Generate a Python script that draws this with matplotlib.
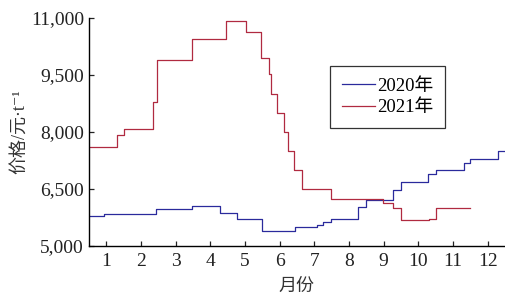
import matplotlib
matplotlib.use("Agg")
import matplotlib.pyplot as plt
from matplotlib.ticker import FuncFormatter

plt.rcParams['font.family'] = ['Liberation Serif', 'Noto Sans CJK SC', 'DejaVu Sans']

# step breakpoints (month, price)
month_2020 = [0.5, 0.93, 2.45, 3.48, 4.28, 4.78, 5.48, 6.44, 7.07, 7.26, 7.48,
              8.27, 8.48, 9.27, 9.51, 10.29, 10.52, 11.32, 11.49, 12.3, 12.5]
price_2020 = [5800, 5850, 5970, 6050, 5870, 5700, 5400, 5500, 5550, 5620, 5700,
              6030, 6200, 6480, 6690, 6900, 7000, 7180, 7290, 7500, 7500]

month_2021 = [0.5, 1.32, 1.52, 2.35, 2.46, 3.46, 4.46, 5.03, 5.46, 5.69, 5.75,
              5.92, 6.13, 6.25, 6.41, 6.66, 7.48, 8.97, 9.26, 9.50, 10.30, 10.51, 11.49]
price_2021 = [7600, 7920, 8090, 8780, 9900, 10450, 10930, 10640, 9960, 9540, 9010,
              8500, 8000, 7500, 7000, 6500, 6240, 6140, 6010, 5670, 5710, 5990, 5990]

x_ticks = list(range(1, 13))
y_ticks = [5000, 6500, 8000, 9500, 11000]

fig = plt.figure(figsize=(5.05, 3.01), dpi=100)
ax = fig.add_axes([0.176, 0.183, 0.824, 0.757])

ax.plot(month_2020, price_2020, drawstyle='steps-post', color='#2a2a9c', lw=0.9, label='2020年')
ax.plot(month_2021, price_2021, drawstyle='steps-post', color='#b02a40', lw=0.9, label='2021年')

ax.set_xlim(0.5, 12.5)
ax.set_ylim(5000, 11000)
ax.set_xticks(x_ticks)
ax.set_yticks(y_ticks)
ax.yaxis.set_major_formatter(FuncFormatter(lambda v, p: f"{int(v):,}"))
ax.tick_params(direction='in', length=3.5, width=0.9, labelsize=14, colors='#222222')
ax.tick_params(axis='x', pad=5)

for s in ['top', 'right']:
    ax.spines[s].set_visible(False)
for s in ['left', 'bottom']:
    ax.spines[s].set_linewidth(1.0)

ax.set_xlabel('月份', fontsize=13, color='#333333', labelpad=6)
ax.set_ylabel('价格/元·t⁻¹', fontsize=13, color='#333333', labelpad=2)

leg = ax.legend(loc='upper left', bbox_to_anchor=(0.558, 0.83), fontsize=13.5,
                frameon=True, fancybox=False, handlelength=1.8, handletextpad=0.1,
                borderpad=0.6, labelspacing=0.25)
leg.get_frame().set_edgecolor('black')
leg.get_frame().set_linewidth(0.9)

fig.savefig('out.png', dpi=100)
